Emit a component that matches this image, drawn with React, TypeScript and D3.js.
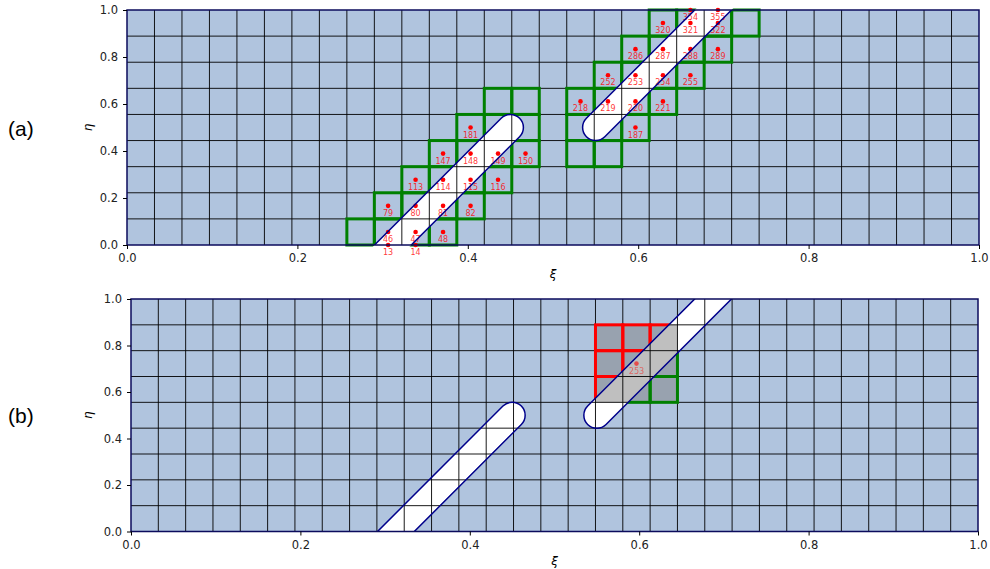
import { useEffect, useRef } from 'react'
import * as d3 from 'd3'

// mesh: 31 x 9 cells on the unit square; ids are counted on a 33-wide
// mesh that includes ghost cells (4 columns offset, 1 ghost row below)
const NX = 31
const NY = 9
const ID_ROW = 33
const ID_COL_OFFSET = 4

const tickValues = [0, 0.2, 0.4, 0.6, 0.8, 1.0]

// rounded ends of the two slots (xi, eta) and the way each slot runs from its cap
const slotCapXi = [0.45, 0.55]
const slotCapEta = [0.5, 0.5]
const slotRunsUp = [false, true]

// panel (a): green stencil, one run of cells per row: [row, firstCol, lastCol]
const greenRunsA = [
  [0, 8, 11], [1, 9, 12], [2, 10, 13], [3, 11, 14], [4, 12, 14], [5, 13, 14],
  [3, 16, 17], [4, 16, 18], [5, 16, 19], [6, 17, 20], [7, 18, 21], [8, 19, 22],
]
const cellIdsA = [
  13, 14, 46, 47, 48, 79, 80, 81, 82, 113, 114, 115, 116, 147, 148, 149, 150, 181,
  187, 218, 219, 220, 221, 252, 253, 254, 255, 286, 287, 288, 289, 320, 321, 322, 354, 355,
]

// panel (b): 3x3 block around cell 253
const blockColsB = [17, 19]
const blockRowsB = [5, 7]
const redCellsB = [[7, 17], [7, 18], [7, 19], [6, 17], [6, 18], [5, 17]]
const greenCellsB = [[5, 18], [5, 19], [6, 19]]
const cellIdsB = [253]

const SLOT_R = 13
const FONT = 'DejaVu Sans, sans-serif'

const panels = [
  { key: 'a', left: 127, top: 10, width: 852, height: 235, label: '(a)',
    green: greenRunsA.flatMap(([r, c0, c1]) => d3.range(c0, c1 + 1).map(c => [r, c])),
    red: [], block: null, ids: cellIdsA, idOpacity: 1 },
  { key: 'b', left: 131, top: 299, width: 847, height: 232.5, label: '(b)',
    green: greenCellsB, red: redCellsB, block: [blockColsB, blockRowsB], ids: cellIdsB, idOpacity: 0.6 },
]

const App = () => {
  const ref = useRef(null)

  useEffect(() => {
    const svg = d3.select(ref.current)
    svg.selectAll('*').remove()

    panels.forEach(p => {
      const x = d3.scaleLinear().domain([0, 1]).range([0, p.width])
      const y = d3.scaleLinear().domain([0, 1]).range([p.height, 0])
      const g = svg.append('g').attr('transform', `translate(${p.left},${p.top})`)

      const slotPath = i => {
        const cx = x(slotCapXi[i]), cy = y(slotCapEta[i])
        const s = slotRunsUp[i] ? 1 : -1
        const ux = -s / Math.SQRT2, uy = s / Math.SQRT2   // body -> cap
        const nx = SLOT_R / Math.SQRT2, ny = SLOT_R / Math.SQRT2
        const L = 600
        const fx = cx - ux * L, fy = cy - uy * L
        return `M${fx + nx},${fy + ny}L${cx + nx},${cy + ny}` +
          `A${SLOT_R},${SLOT_R} 0 0 ${s > 0 ? 1 : 0} ${cx - nx},${cy - ny}` +
          `L${fx - nx},${fy - ny}Z`
      }

      const defs = g.append('defs')
      defs.append('clipPath').attr('id', `clip-${p.key}`)
        .append('rect').attr('width', p.width).attr('height', p.height)
      const mask = defs.append('mask').attr('id', `mask-${p.key}`)
        .attr('maskUnits', 'userSpaceOnUse')
        .attr('x', -20).attr('y', -20).attr('width', p.width + 40).attr('height', p.height + 40)
      mask.append('rect').attr('x', -20).attr('y', -20)
        .attr('width', p.width + 40).attr('height', p.height + 40).attr('fill', '#fff')
      slotCapXi.forEach((_, i) => mask.append('path').attr('d', slotPath(i)).attr('fill', '#000'))

      const base = g.append('g').attr('clip-path', `url(#clip-${p.key})`)
      base.append('rect').attr('width', p.width).attr('height', p.height).attr('fill', '#b0c4de')
      slotCapXi.forEach((_, i) => base.append('path').attr('d', slotPath(i)).attr('fill', '#fff'))

      if (p.block) {
        const [[c0, c1], [r0, r1]] = p.block
        base.append('rect')
          .attr('x', x(c0 / NX)).attr('y', y((r1 + 1) / NY))
          .attr('width', x((c1 + 1) / NX) - x(c0 / NX))
          .attr('height', y(r0 / NY) - y((r1 + 1) / NY))
          .attr('fill', '#808080').attr('fill-opacity', 0.5)
      }

      const grid = base.append('g').attr('stroke', '#000').attr('stroke-width', 1).attr('stroke-opacity', 0.9)
      d3.range(1, NX).forEach(k => grid.append('line')
        .attr('x1', x(k / NX)).attr('x2', x(k / NX)).attr('y1', 0).attr('y2', p.height))
      d3.range(1, NY).forEach(k => grid.append('line')
        .attr('y1', y(k / NY)).attr('y2', y(k / NY)).attr('x1', 0).attr('x2', p.width))

      const outlines = g.append('g').attr('mask', `url(#mask-${p.key})`)
      const cellRect = (sel, [r, c], color) => sel.append('rect')
        .attr('x', x(c / NX)).attr('y', y((r + 1) / NY))
        .attr('width', x((c + 1) / NX) - x(c / NX))
        .attr('height', y(r / NY) - y((r + 1) / NY))
        .attr('fill', 'none').attr('stroke', color).attr('stroke-width', 3)
      p.green.forEach(cell => cellRect(outlines, cell, '#008000'))
      p.red.forEach(cell => cellRect(outlines, cell, '#ff0000'))

      // cell numbers
      const ids = g.append('g').attr('opacity', p.idOpacity)
      p.ids.forEach(id => {
        const col = (id % ID_ROW) - ID_COL_OFFSET
        const row = Math.floor(id / ID_ROW) - 1
        const cx = x((col + 0.5) / NX)
        const cy = y(Math.max(0, Math.min(1, (row + 0.5) / NY)))
        ids.append('circle').attr('cx', cx).attr('cy', cy).attr('r', 2.3).attr('fill', '#ff0000')
        ids.append('text').attr('x', cx).attr('y', cy + 10)
          .attr('text-anchor', 'middle').attr('font-family', FONT).attr('font-size', 8)
          .attr('fill', '#ff0000').attr('fill-opacity', 0.8).text(id)
      })

      const lines = g.append('g').attr('clip-path', `url(#clip-${p.key})`)
      slotCapXi.forEach((_, i) => lines.append('path').attr('d', slotPath(i))
        .attr('fill', 'none').attr('stroke', '#00008b').attr('stroke-width', 1.5))

      g.append('rect').attr('width', p.width).attr('height', p.height)
        .attr('fill', 'none').attr('stroke', '#0b0b5c').attr('stroke-width', 1.5)

      const fmt = d3.format('.1f')
      const xa = g.append('g').attr('transform', `translate(0,${p.height})`)
        .call(d3.axisBottom(x).tickValues(tickValues).tickFormat(fmt).tickSize(4).tickPadding(5))
      const ya = g.append('g')
        .call(d3.axisLeft(y).tickValues(tickValues).tickFormat(fmt).tickSize(4).tickPadding(5))
      ;[xa, ya].forEach(a => {
        a.select('.domain').remove()
        a.attr('font-family', FONT).attr('font-size', 11.5)
        a.selectAll('text').attr('fill', '#222')
      })

      g.append('text').attr('x', p.width / 2).attr('y', p.height + 33)
        .attr('text-anchor', 'middle').attr('font-family', FONT).attr('font-size', 12)
        .attr('font-style', 'italic').text('ξ')
      g.append('text').attr('transform', `translate(${88 - p.left},${p.height / 2}) rotate(-90)`)
        .attr('text-anchor', 'middle').attr('dy', '0.35em').attr('font-family', FONT)
        .attr('font-size', 12).attr('font-style', 'italic').text('η')
      g.append('text').attr('x', 8 - p.left).attr('y', p.height / 2 + 8)
        .attr('font-family', 'Liberation Sans, Arial, sans-serif').attr('font-size', 21)
        .text(p.label)
    })
  }, [])

  return (
    <svg ref={ref} width={990} height={569}
      style={{ position: 'absolute', left: 0, top: 0, background: '#fff' }} />
  )
}

export default App
